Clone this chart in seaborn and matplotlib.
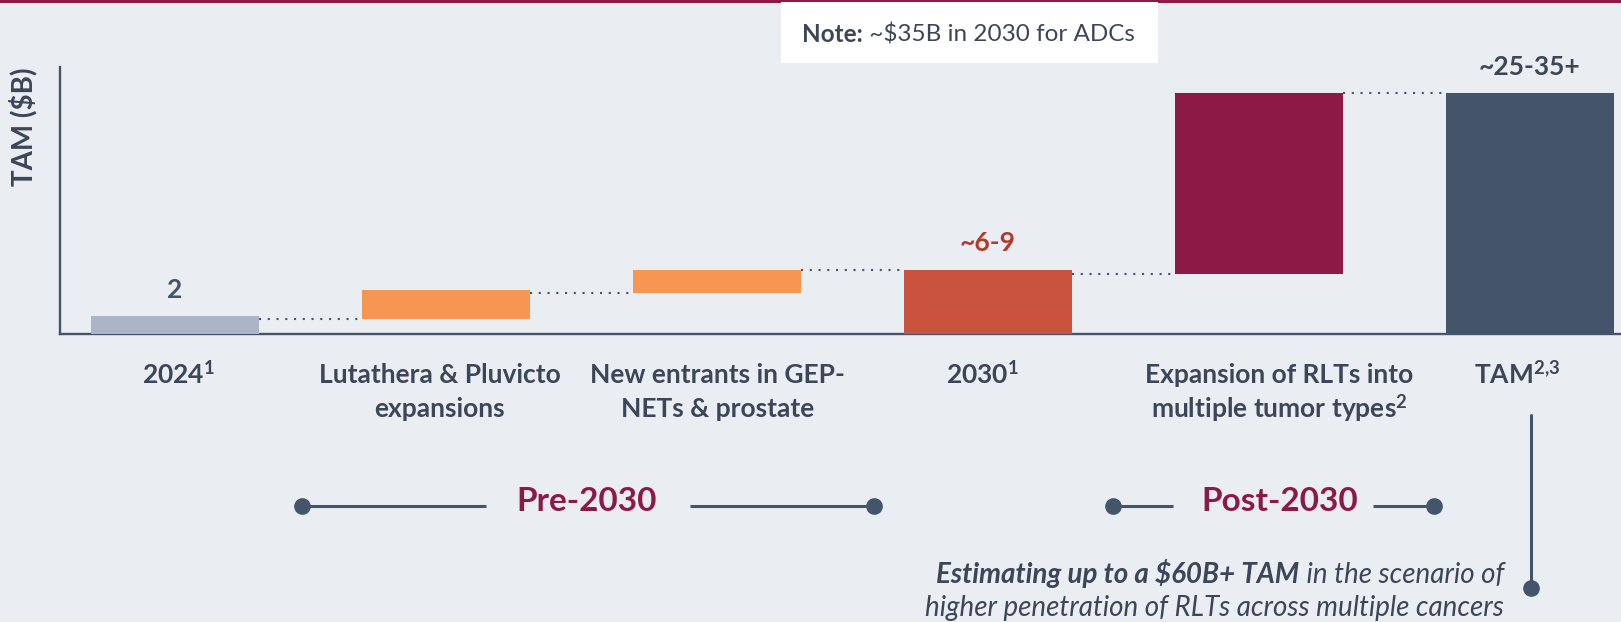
import matplotlib
matplotlib.use("Agg")
import matplotlib.pyplot as plt
import seaborn as sns
import pandas as pd
from matplotlib.patches import Rectangle
from matplotlib.transforms import blended_transform_factory

# ---------------- data ----------------
categories = ["2024", "Lutathera & Pluvicto expansions", "New entrants in GEP-NETs & prostate",
              "2030", "Expansion of RLTs into multiple tumor types", "TAM"]
tick_labels = ["2024$^{\\mathbf{1}}$",
               "Lutathera & Pluvicto\nexpansions",
               "New entrants in GEP-\nNETs & prostate",
               "2030$^{\\mathbf{1}}$",
               "Expansion of RLTs into\nmultiple tumor types$^{\\mathbf{2}}$",
               "TAM$^{\\mathbf{2{,}3}}$"]
bar_bottoms = [0, 1.7, 4.7, 0, 6.8, 0]
bar_tops = [2.0, 5.0, 7.3, 7.3, 27.4, 27.4]
value_labels = ["2", "", "", "~6-9", "", "~25-35+"]
bar_colors = ["#abb5c6", "#f79552", "#f79552", "#c9533f", "#8d1a45", "#44546a"]
value_colors = ["#44546a", "#44546a", "#44546a", "#b03a2c", "#44546a", "#3b4658"]

BG = "#eaedf2"
DARK = "#3b4658"
LINE = "#44546a"
MAROON = "#8d1a45"

sns.set_style("white")
plt.rcParams["font.family"] = ["Lato", "DejaVu Sans"]
plt.rcParams["mathtext.fontset"] = "custom"
plt.rcParams["mathtext.rm"] = "Lato"
plt.rcParams["mathtext.bf"] = "Lato:bold"
plt.rcParams["mathtext.it"] = "Lato:italic"

W, H = 1621, 622
fig = plt.figure(figsize=(W / 100, H / 100), dpi=100, facecolor=BG)

# main axes in pixel layout
ax_left, ax_right, ax_top, ax_bottom = 60, 1621, 67, 334
ax = fig.add_axes([ax_left / W, (H - ax_bottom) / H, (ax_right - ax_left) / W, (ax_bottom - ax_top) / H])
ax.set_facecolor(BG)

df = pd.DataFrame({"category": categories,
                   "span": [t - b for t, b in zip(bar_tops, bar_bottoms)]})
bar_w = 0.62
sns.barplot(data=df, x="category", y="span", hue="category", palette=bar_colors,
            order=categories, hue_order=categories, width=bar_w, legend=False,
            saturation=1, ax=ax, zorder=3)
for patch, b in zip(ax.patches, bar_bottoms):
    patch.set_y(b)
    patch.set_linewidth(0)

ax.set_xlim(-0.424, 5.336)
ax.set_ylim(0, 30.4)
ax.set_xlabel("")
ax.set_ylabel("")
ax.set_xticks([])
ax.set_yticks([])
for s in ["top", "right"]:
    ax.spines[s].set_visible(False)
for s in ["left", "bottom"]:
    ax.spines[s].set_color(LINE)
    ax.spines[s].set_linewidth(1.7)

# dotted connectors
for i in range(len(categories) - 1):
    y = bar_bottoms[i + 1] if bar_bottoms[i + 1] > 0 else bar_tops[i]
    ax.plot([i + bar_w / 2, i + 1 - bar_w / 2], [y, y], color=LINE, lw=1.5,
            linestyle=(0, (1, 3.2)), zorder=2)

# value labels
for i, (lab, top, c) in enumerate(zip(value_labels, bar_tops, value_colors)):
    if lab:
        ax.annotate(lab, xy=(i, top), xytext=(0, 13.5), textcoords="offset points",
                    ha="center", va="baseline", fontsize=19, fontweight="bold", color=c)

# overlay axes in pixel coordinates
ov = fig.add_axes([0, 0, 1, 1])
ov.set_xlim(0, W)
ov.set_ylim(H, 0)
ov.axis("off")

# category labels (x from data, y in pixels), one text per line
px_per_unit = (ax_right - ax_left) / (5.336 + 0.424)
label_dx = [4, -6, 1, -5, 20, -13]
trans = blended_transform_factory(ax.transData, ov.transData)
for i, (lab, dx) in enumerate(zip(tick_labels, label_dx)):
    for k, line in enumerate(lab.split("\n")):
        ov.text(i + dx / px_per_unit, 383 + 34 * k, line, transform=trans, ha="center",
                va="baseline", fontsize=19, fontweight="bold", color=DARK)

# top line
ov.add_patch(Rectangle((0, 0), W, 2.5, color=MAROON, lw=0))

# note box
ov.add_patch(Rectangle((781, 2), 377, 61, facecolor="white", lw=0))
t1 = ov.text(802, 42, "Note:", ha="left", va="baseline", fontsize=17.5, fontweight="bold", color=DARK)
ov.annotate(" ~$35B in 2030 for ADCs", xy=(1, 0), xycoords=t1, ha="left", va="bottom",
            fontsize=17.5, color=DARK)

# y-axis label
ov.text(23, 68, "TAM ($B)", rotation=90, ha="center", va="top", fontsize=20,
        fontweight="bold", color=DARK)

# period brackets
def bracket(x0, x1, x2, x3, xt, text):
    ov.plot([x0, x1], [506, 506], color=LINE, lw=2.2, solid_capstyle="butt")
    ov.plot([x2, x3], [506, 506], color=LINE, lw=2.2, solid_capstyle="butt")
    ov.plot([x0, x3], [506, 506], "o", color=LINE, markersize=11, lw=0)
    ov.text(xt, 511, text, ha="center", va="baseline", fontsize=24, fontweight="bold", color=MAROON)

bracket(302, 486, 690, 874, 587, "Pre-2030")
bracket(1113, 1173, 1373, 1434, 1280, "Post-2030")

# vertical line from TAM
ov.plot([1531, 1531], [415, 588], color=LINE, lw=2.2)
ov.plot([1531], [588], "o", color=LINE, markersize=11)

# italic note
ti = ov.text(1504, 583, " in the scenario of", ha="right", va="baseline", fontsize=20,
             style="italic", color=DARK)
ov.annotate("Estimating up to a $60B+ TAM", xy=(0, 0), xycoords=ti, ha="right", va="bottom",
            fontsize=20, style="italic", fontweight="bold", color=DARK)
ov.text(1504, 616, "higher penetration of RLTs across multiple cancers", ha="right", va="baseline",
        fontsize=20, style="italic", color=DARK)

fig.savefig("out.png", dpi=100, facecolor=BG)
